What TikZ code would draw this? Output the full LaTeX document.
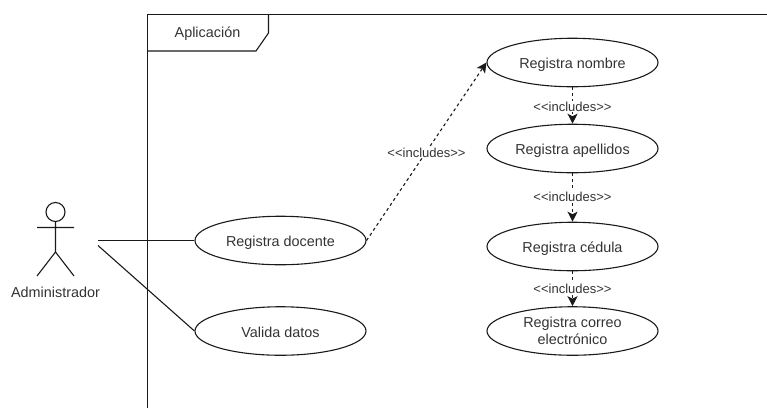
\documentclass[tikz,border=0pt]{standalone}
\usepackage{fontspec}
\setmainfont{Liberation Sans}
\usetikzlibrary{arrows.meta,shapes.geometric}
\definecolor{ink}{HTML}{1A1A1A}
\definecolor{txt}{HTML}{333333}
\tikzset{
 uc/.style={draw=ink,line width=1.1pt,ellipse,minimum width=171pt,minimum height=48.5pt,inner sep=0pt,align=center,text=txt,font=\fontsize{14.4}{16.5}\selectfont},
 ucone/.style={uc,text height=14pt,text depth=2pt},
 lbl/.style={text=txt,inner sep=1pt,fill=white,yshift=-1pt,font=\fontsize{13}{15}\selectfont},
 ln/.style={draw=ink,line width=1.1pt},
 dep/.style={draw=ink,line width=1.1pt,dash pattern=on 3pt off 3pt,-{Stealth[length=10pt,width=10pt,inset=2.5pt]}}
}
\begin{document}
\begin{tikzpicture}[x=1pt,y=-1pt]
\useasboundingbox (0,0) rectangle (767,408);
\draw[ln] (147.5,408) -- (147.5,14.5) -- (767,14.5);
\draw[ln] (268.5,14.5) -- (268.5,33) -- (256,51) -- (147.5,51);
\node[text=txt,font=\fontsize{14.4}{16.5}\selectfont,inner sep=0pt] (title) at (207.5,33.5) {Aplicación};
% actor
\draw[ln] (55.5,212) circle (9.5);
\draw[ln] (55.5,221.5) -- (55.5,252) (37,227.5) -- (74,227.5) (37,276) -- (55.5,252) -- (74,276);
\node[text=txt,font=\fontsize{14.4}{16.5}\selectfont,inner sep=0pt] (adm) at (55.5,292.5) {Administrador};
\coordinate (a1) at (98,240.5);
\coordinate (a2) at (98,245.5);
\node[ucone] (doc) at (280.5,240.5) {Registra docente};
\node[ucone] (val) at (280.5,331) {Valida datos};
\node[ucone] (nom) at (572.5,62.5) {Registra nombre};
\node[ucone] (ape) at (572.5,148.5) {Registra apellidos};
\node[ucone] (ced) at (572.5,246.5) {Registra cédula};
\node[uc] (cor) at (572.5,331) {Registra correo\\electrónico};
\draw[ln] (a1) -- (doc.west);
\draw[ln] (a2) -- (val.west);
\draw[dep] (doc.east) -- node[lbl] (l1) {<{}<includes>{}>} (nom.west);
\draw[dep] (nom.south) -- node[lbl,pos=.5] (l2) {<{}<includes>{}>} (ape.north);
\draw[dep] (ape.south) -- node[lbl,pos=.47] (l3) {<{}<includes>{}>} (ced.north);
\draw[dep] (ced.south) -- node[lbl,pos=.47] (l4) {<{}<includes>{}>} (cor.north);
\end{tikzpicture}
\end{document}
